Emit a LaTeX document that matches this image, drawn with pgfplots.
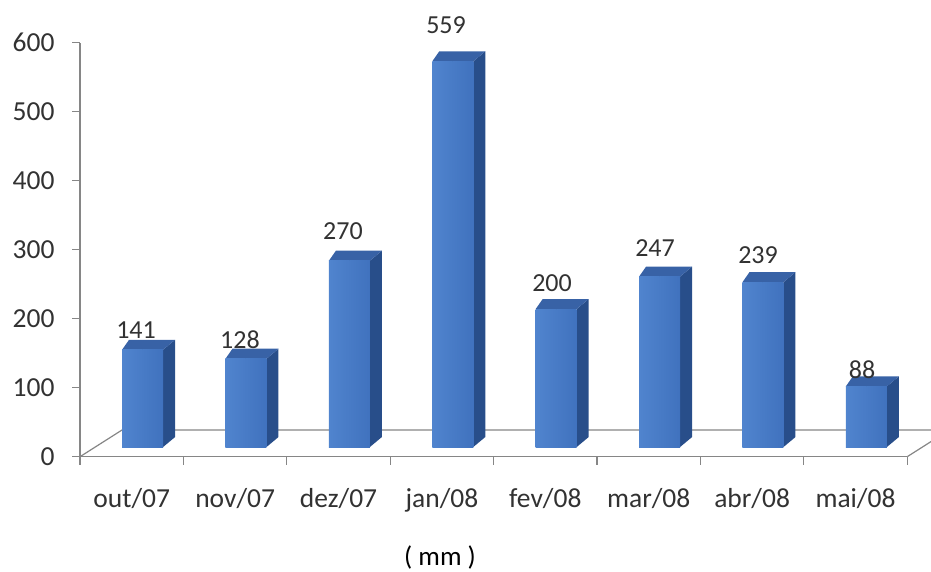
\documentclass[border=0pt]{standalone}
\usepackage{fontspec}
\setmainfont{Carlito}
\usepackage{pgfplots}
\usepackage{pgfplotstable}
\pgfplotsset{compat=1.18}
\definecolor{axisgray}{RGB}{134,134,134}
\definecolor{txt}{RGB}{50,50,50}
\definecolor{frontL}{RGB}{80,132,206}
\definecolor{frontR}{RGB}{64,114,190}
\definecolor{sidec}{RGB}{40,78,138}
\definecolor{topc}{RGB}{56,98,166}

\pgfplotstableread{
k v ly lx
0 141 182.9 0.542
1 128 169.1 1.547
2 270 327.1 2.543
3 559 625.7 3.540
4 200 251.7 4.565
5 247 302.5 5.561
6 239 292.3 6.557
7 88 125.7 7.563
}\data

\begin{document}
\begin{tikzpicture}
\begin{axis}[
  x=103.4pt, y=0.69pt,
  xmin=0, xmax=8, ymin=0, ymax=600,
  clip=false,
  axis x line*=bottom, axis y line*=left,
  axis line style={axisgray, line width=1.2pt},
  every tick/.style={axisgray, line width=1.2pt},
  tick align=outside, major tick length=8pt,
  xtick={0,...,8}, x tick label as interval=true,
  xticklabels={out/07,nov/07,dez/07,jan/08,fev/08,mar/08,abr/08,mai/08},
  ytick={0,100,...,600},
  ytick pos=left, xtick pos=bottom,
  /pgf/number format/assume math mode=true,
  ticklabel style={font=\fontsize{27.5}{32}\selectfont, text=txt},
  yticklabel style={xshift=-14pt},
  xticklabel style={yshift=-20pt},
]
% floor
\addplot[axisgray, line width=1.2pt, no marks] coordinates {(0,0) (0.406,38.7) (8.406,38.7) (8,0)};
% 3D bars
\addplot[scatter, only marks, mark=*, mark size=0pt,
  mark options={draw=none, fill=none},
  visualization depends on={\thisrow{v} \as \val},
  scatter/@pre marker code/.code={%
    \pgfkeys{/pgf/fpu=true,/pgf/fpu/output format=fixed}%
    \pgfmathsetmacro\h{\val*0.69}%
    \pgfmathsetmacro\hb{10-\h}%
    \pgfmathsetmacro\hm{-\h}%
    \pgfkeys{/pgf/fpu=false}%
    \path[fill=sidec, draw=none] (20.5pt,0pt) -- (32.5pt,10pt) -- (32.5pt,\hb pt) -- (20.5pt,\hm pt) -- cycle;
    \path[fill=topc, draw=none] (-20.5pt,0pt) -- (20.5pt,0pt) -- (32.5pt,10pt) -- (-13.5pt,10pt) -- cycle;
    \path[draw=none, left color=frontL, right color=frontR] (-20.5pt,0pt) rectangle (20.5pt,\hm pt);
  },
  scatter/@post marker code/.code={},
] table[x expr=\thisrow{k}+0.605, y expr=\thisrow{v}+14] {\data};
% value labels
\addplot[only marks, mark=none, draw=none,
  point meta=explicit symbolic,
  nodes near coords,
  every node near coord/.append style={anchor=center, font=\fontsize{26}{30}\selectfont, text=txt},
] table[x=lx, y=ly, meta=v] {\data};
\node[font=\fontsize{27}{31}\selectfont, text=black, inner sep=0pt] at (axis cs:3.482,-146) {( mm )};
\coordinate (bbsw) at (axis cs:-0.774,-165.7);
\coordinate (bbne) at (axis cs:8.230,661.9);
\end{axis}
\pgfresetboundingbox
\path[use as bounding box] (bbsw) rectangle (bbne);
\end{tikzpicture}
\end{document}
